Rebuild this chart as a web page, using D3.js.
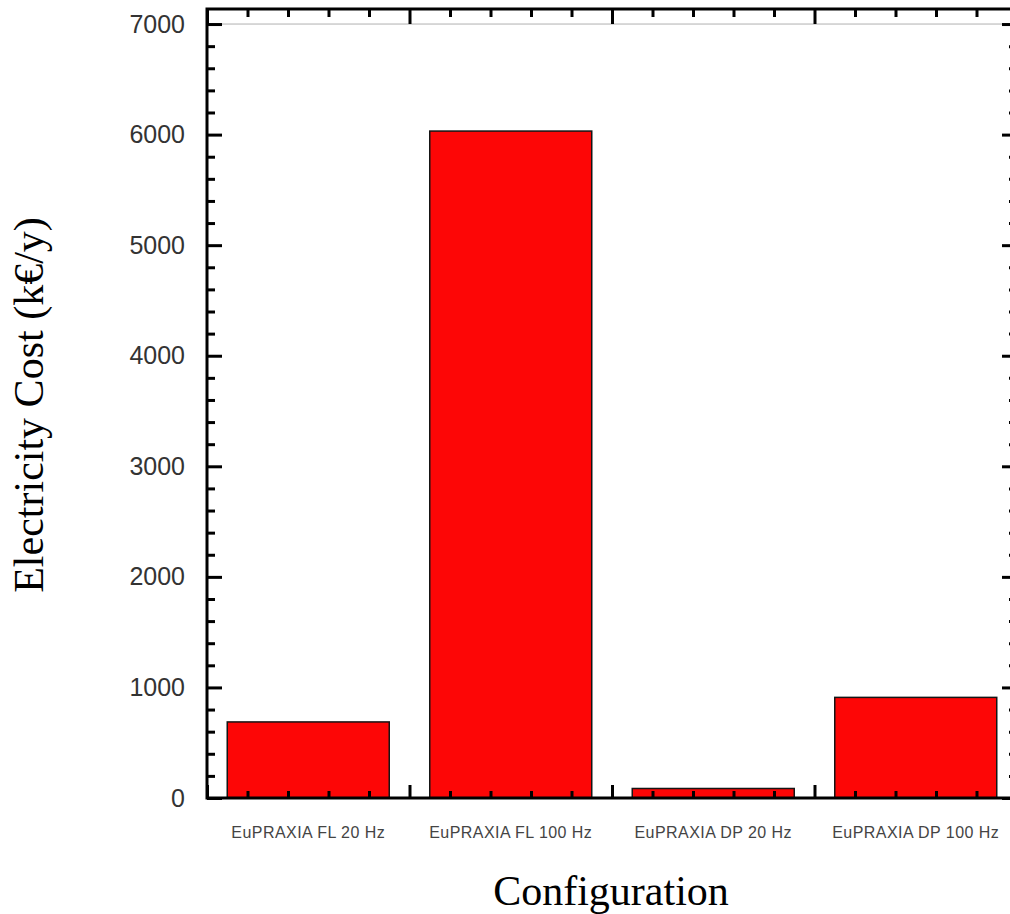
<!DOCTYPE html>
<html lang="en">
	<head>
		<meta charset="UTF-8">
		<title>Electricity Cost</title>
		<script src="https://cdnjs.cloudflare.com/ajax/libs/d3/7.8.5/d3.min.js"></script>
		<style>
			body { margin: 0; background: #fff; }
		</style>
		<script>
var categories = ["EuPRAXIA FL 20 Hz", "EuPRAXIA FL 100 Hz", "EuPRAXIA DP 20 Hz", "EuPRAXIA DP 100 Hz"];
var costs = [688, 6032, 86, 910];
var yMajorTicks = [0, 1000, 2000, 3000, 4000, 5000, 6000, 7000];
var yLabel = "Electricity Cost (k\u20ac/y)";
var xLabel = "Configuration";

function makeChart() {
	var svg = d3.select("svg");

	var left = 207, right = 1017, top = 9, bottom = 798;
	var yMax = 7136;

	var scX = d3.scaleBand().domain(categories).range([left, right])
		.paddingInner(0.2).paddingOuter(0.1);
	// linear scale on the category index, for the tick marks
	var scXi = d3.scaleLinear().domain([0, categories.length]).range([left, right]);
	var scY = d3.scaleLinear().domain([0, yMax]).range([bottom, top]);

	// thin line at the top tick value
	svg.append("line")
		.attr("x1", left).attr("x2", right)
		.attr("y1", scY(7000)).attr("y2", scY(7000))
		.attr("stroke", "#b0b0b0").attr("stroke-width", 1);

	// bars
	svg.append("g").selectAll("rect").data(costs).enter()
		.append("rect")
		.attr("x", (d, i) => scX(categories[i]))
		.attr("width", scX.bandwidth())
		.attr("y", d => scY(d))
		.attr("height", d => scY(0) - scY(d))
		.attr("fill", "#fd0606")
		.attr("stroke", "#151515")
		.attr("stroke-width", 1.5);

	var xMajor = d3.range(0, categories.length + 0.001, 1);
	var xMinor = d3.range(0, categories.length + 0.001, 0.2).filter(v => Math.abs(v - Math.round(v)) > 0.01);
	var yMinor = d3.range(0, 7001, 200).filter(v => v % 1000 !== 0);

	var tickAxis = function(mkr, vals, size, tr) {
		var g = svg.append("g").attr("transform", tr)
			.call(mkr.tickValues(vals).tickSize(-size).tickFormat(""));
		g.select(".domain").remove();
		g.selectAll(".tick line").attr("stroke", "#000").attr("stroke-width", 3);
		return g;
	};

	// bottom ticks (pointing inward, over the bars)
	tickAxis(d3.axisBottom(scXi), xMajor, 13, `translate(0,${bottom})`);
	tickAxis(d3.axisBottom(scXi), xMinor, 7, `translate(0,${bottom})`);
	// top ticks
	tickAxis(d3.axisTop(scXi), xMajor, 15, `translate(0,${top})`);
	tickAxis(d3.axisTop(scXi), xMinor, 8, `translate(0,${top})`);
	// right ticks
	tickAxis(d3.axisRight(scY), yMajorTicks, 15, `translate(${right},0)`);
	tickAxis(d3.axisRight(scY), yMinor, 8, `translate(${right},0)`);
	// left ticks
	tickAxis(d3.axisLeft(scY), yMinor, 8, `translate(${left},0)`);

	// left axis with labels
	var gy = svg.append("g").attr("transform", `translate(${left},0)`)
		.call(d3.axisLeft(scY).tickValues(yMajorTicks).tickSize(-15).tickPadding(22).tickFormat(d3.format("d")));
	gy.select(".domain").remove();
	gy.selectAll(".tick line").attr("stroke", "#000").attr("stroke-width", 3);
	gy.selectAll(".tick text")
		.attr("fill", "#333")
		.style("font-family", "'Liberation Sans', Arial, sans-serif")
		.style("font-size", "25px");

	// frame
	svg.append("rect")
		.attr("x", left).attr("y", top)
		.attr("width", right - left).attr("height", bottom - top)
		.attr("fill", "none").attr("stroke", "#000").attr("stroke-width", 3);

	// category labels
	svg.append("g").selectAll("text").data(categories).enter()
		.append("text")
		.attr("x", d => scX(d) + scX.bandwidth() / 2)
		.attr("y", 838)
		.attr("text-anchor", "middle")
		.attr("fill", "#444")
		.style("font-family", "'Liberation Sans', Arial, sans-serif")
		.style("font-size", "16px")
		.style("letter-spacing", "0.45px")
		.text(d => d);

	// axis titles
	svg.append("text")
		.attr("transform", "translate(43,405) rotate(-90)")
		.attr("text-anchor", "middle")
		.style("font-family", "'Liberation Serif', 'Times New Roman', serif")
		.style("font-size", "42px")
		.text(yLabel);

	svg.append("text")
		.attr("x", 611).attr("y", 905)
		.attr("text-anchor", "middle")
		.style("font-family", "'Liberation Serif', 'Times New Roman', serif")
		.style("font-size", "42px")
		.text(xLabel);
}
		</script>
	</head>
	<body onload="makeChart()">
		<svg width="1010" height="914" style="display:block;background:#fff"></svg>
	</body>
</html>
